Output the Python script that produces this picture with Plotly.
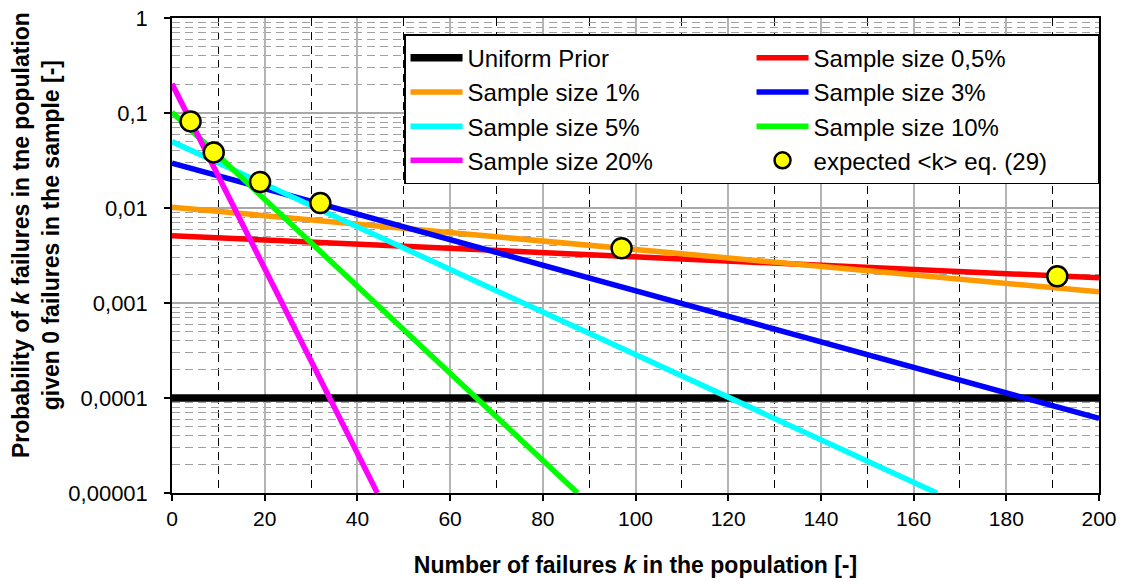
import plotly.graph_objects as go

# ---- data ----
uniform_k = [0, 200]
uniform_p = [1e-4, 1e-4]

s05_k = [0, 200]
s05_p = [0.0051, 0.00184]

s1_k = [0, 200]
s1_p = [0.0102, 0.00131]

s3_k = [0, 200]
s3_p = [0.0297, 6.1e-5]

s5_k = [0, 165]
s5_p = [0.050, 1.0e-5]

s10_k = [0, 87.5]
s10_p = [0.102, 1.0e-5]

s20_k = [0, 44.3]
s20_p = [0.203, 1.0e-5]

exp_k = [4, 9, 19, 32, 97, 191]
exp_p = [0.0816, 0.0385, 0.0188, 0.0113, 0.00377, 0.00191]

y_tickvals = [1e-5, 1e-4, 1e-3, 1e-2, 1e-1, 1]
y_ticktext = ["0,00001", "0,0001", "0,001", "0,01", "0,1", "1"]
x_tickvals = [0, 20, 40, 60, 80, 100, 120, 140, 160, 180, 200]

FONT = "Liberation Sans, Arial, sans-serif"

series = [
    ("Uniform Prior", uniform_k, uniform_p, "#000000", 7.5),
    ("Sample size 0,5%", s05_k, s05_p, "#ff0000", 5.5),
    ("Sample size 1%", s1_k, s1_p, "#ff9900", 5.5),
    ("Sample size 3%", s3_k, s3_p, "#0000ff", 5.5),
    ("Sample size 5%", s5_k, s5_p, "#00ffff", 5.5),
    ("Sample size 10%", s10_k, s10_p, "#00ff00", 5.5),
    ("Sample size 20%", s20_k, s20_p, "#ff00ff", 5.5),
]

fig = go.Figure()
for name, k, p, color, w in series:
    fig.add_trace(go.Scatter(x=k, y=p, mode="lines", name=name,
                             line=dict(color=color, width=w)))

fig.add_trace(go.Scatter(
    x=exp_k, y=exp_p, mode="markers", name="expected &lt;k&gt; eq. (29)",
    marker=dict(color="#ffff00", size=20, line=dict(color="black", width=2.5)),
    cliponaxis=False))

fig.update_layout(
    width=1125, height=583,
    margin=dict(l=172, r=26, t=18, b=90, autoexpand=False),
    paper_bgcolor="white", plot_bgcolor="white",
    font=dict(family=FONT, color="black", size=21),
    showlegend=True,
    legend=dict(
        orientation="h", x=0.2503, y=0.966, xanchor="left", yanchor="top",
        bgcolor="white", bordercolor="black", borderwidth=1.5,
        font=dict(family=FONT, size=24, color="black"),
        entrywidth=279, entrywidthmode="pixels", itemwidth=52,
    ),
)

fig.update_xaxes(
    range=[0, 200], tickvals=x_tickvals,
    ticks="outside", ticklen=6, tickcolor="black", tickwidth=1.5,
    showline=True, linecolor="black", linewidth=1.5, mirror=True,
    showgrid=True, gridcolor="#b4b4b4", gridwidth=1.5, zeroline=False,
    tickfont=dict(size=21),
    minor=dict(dtick=10, showgrid=True, gridcolor="#000000", gridwidth=1,
               griddash="8px,6px", ticks=""),
    title=dict(text="<b>Number of failures <i>k</i> in the population [-]</b>",
               font=dict(size=23), standoff=28),
)

fig.update_yaxes(
    type="log", range=[-5, 0], tickvals=y_tickvals, ticktext=y_ticktext,
    ticks="outside", ticklen=6, tickcolor="black", tickwidth=1.5,
    showline=True, linecolor="black", linewidth=1.5, mirror=True,
    showgrid=True, gridcolor="#a8a8a8", gridwidth=1.5,
    tickfont=dict(size=22), ticklabelstandoff=12,
    minor=dict(dtick="D1", showgrid=True, gridcolor="#a0a0a0", gridwidth=1,
               griddash="8px,5px", ticks=""),
)

fig.add_annotation(
    xref="paper", yref="paper", x=-0.1467, y=0.543,
    xanchor="center", yanchor="middle", textangle=-90, showarrow=False,
    text="<b>Probability of <i>k</i> failures in tne population<br>given 0 failures in the sample [-]</b>",
    font=dict(family=FONT, size=23, color="black"), align="center",
)

fig.write_html("out.html")
